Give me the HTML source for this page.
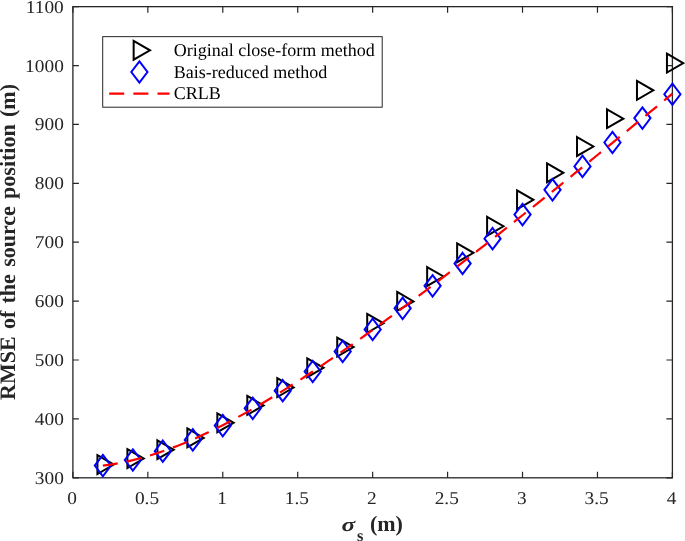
<!DOCTYPE html><html><head><meta charset="utf-8"><style>html,body{margin:0;padding:0;background:#fff;overflow:hidden}svg{display:block;will-change:transform;transform:translateZ(0)}text{font-family:"Liberation Serif",serif;fill:#262626;text-rendering:geometricPrecision}</style></head><body>
<svg width="685" height="541" viewBox="0 0 685 541">
<rect width="685" height="541" fill="#fff"/>
<rect x="72.9" y="6.65" width="599.5" height="471.15000000000003" fill="none" stroke="#262626" stroke-width="1.3"/>
<path d="M72.90 477.8 v-6 M72.90 6.65 v6" stroke="#262626" stroke-width="1.2" fill="none"/>
<text transform="translate(72.10 503.80) scale(1.075 1)" font-size="18" text-anchor="middle" >0</text>
<path d="M147.84 477.8 v-6 M147.84 6.65 v6" stroke="#262626" stroke-width="1.2" fill="none"/>
<text transform="translate(147.04 503.80) scale(1.075 1)" font-size="18" text-anchor="middle" >0.5</text>
<path d="M222.78 477.8 v-6 M222.78 6.65 v6" stroke="#262626" stroke-width="1.2" fill="none"/>
<text transform="translate(221.97 503.80) scale(1.075 1)" font-size="18" text-anchor="middle" >1</text>
<path d="M297.71 477.8 v-6 M297.71 6.65 v6" stroke="#262626" stroke-width="1.2" fill="none"/>
<text transform="translate(296.91 503.80) scale(1.075 1)" font-size="18" text-anchor="middle" >1.5</text>
<path d="M372.65 477.8 v-6 M372.65 6.65 v6" stroke="#262626" stroke-width="1.2" fill="none"/>
<text transform="translate(371.85 503.80) scale(1.075 1)" font-size="18" text-anchor="middle" >2</text>
<path d="M447.59 477.8 v-6 M447.59 6.65 v6" stroke="#262626" stroke-width="1.2" fill="none"/>
<text transform="translate(446.79 503.80) scale(1.075 1)" font-size="18" text-anchor="middle" >2.5</text>
<path d="M522.52 477.8 v-6 M522.52 6.65 v6" stroke="#262626" stroke-width="1.2" fill="none"/>
<text transform="translate(521.73 503.80) scale(1.075 1)" font-size="18" text-anchor="middle" >3</text>
<path d="M597.46 477.8 v-6 M597.46 6.65 v6" stroke="#262626" stroke-width="1.2" fill="none"/>
<text transform="translate(596.66 503.80) scale(1.075 1)" font-size="18" text-anchor="middle" >3.5</text>
<path d="M672.40 477.8 v-6 M672.40 6.65 v6" stroke="#262626" stroke-width="1.2" fill="none"/>
<text transform="translate(671.60 503.80) scale(1.075 1)" font-size="18" text-anchor="middle" >4</text>
<path d="M72.9 477.80 h6 M672.4 477.80 h-6" stroke="#262626" stroke-width="1.2" fill="none"/>
<text transform="translate(63.80 483.80) scale(1.075 1)" font-size="18" text-anchor="end" >300</text>
<path d="M72.9 418.91 h6 M672.4 418.91 h-6" stroke="#262626" stroke-width="1.2" fill="none"/>
<text transform="translate(63.80 424.91) scale(1.075 1)" font-size="18" text-anchor="end" >400</text>
<path d="M72.9 360.01 h6 M672.4 360.01 h-6" stroke="#262626" stroke-width="1.2" fill="none"/>
<text transform="translate(63.80 366.01) scale(1.075 1)" font-size="18" text-anchor="end" >500</text>
<path d="M72.9 301.12 h6 M672.4 301.12 h-6" stroke="#262626" stroke-width="1.2" fill="none"/>
<text transform="translate(63.80 307.12) scale(1.075 1)" font-size="18" text-anchor="end" >600</text>
<path d="M72.9 242.22 h6 M672.4 242.22 h-6" stroke="#262626" stroke-width="1.2" fill="none"/>
<text transform="translate(63.80 248.22) scale(1.075 1)" font-size="18" text-anchor="end" >700</text>
<path d="M72.9 183.33 h6 M672.4 183.33 h-6" stroke="#262626" stroke-width="1.2" fill="none"/>
<text transform="translate(63.80 189.33) scale(1.075 1)" font-size="18" text-anchor="end" >800</text>
<path d="M72.9 124.44 h6 M672.4 124.44 h-6" stroke="#262626" stroke-width="1.2" fill="none"/>
<text transform="translate(63.80 130.44) scale(1.075 1)" font-size="18" text-anchor="end" >900</text>
<path d="M72.9 65.54 h6 M672.4 65.54 h-6" stroke="#262626" stroke-width="1.2" fill="none"/>
<text transform="translate(63.80 71.54) scale(1.075 1)" font-size="18" text-anchor="end" >1000</text>
<path d="M72.9 6.65 h6 M672.4 6.65 h-6" stroke="#262626" stroke-width="1.2" fill="none"/>
<text transform="translate(63.80 12.65) scale(1.075 1)" font-size="18" text-anchor="end" >1100</text>
<text transform="translate(15.0 242.0) rotate(-90)" font-size="22" font-weight="bold" text-anchor="middle" word-spacing="1.8">RMSE of the source position (m)</text>
<text transform="translate(341.60 530.90) scale(1.3 1)" font-size="19.5" text-anchor="start" font-weight="bold" font-style="italic">σ</text>
<text transform="translate(357.00 540.60) scale(1.0 1)" font-size="16.5" text-anchor="start" font-weight="bold">s</text>
<text transform="translate(369.90 530.90) scale(1.0 1)" font-size="22" text-anchor="start" font-weight="bold">(m)</text>
<path d="M97.42 455.16 L113.78 464.60 L97.42 474.04 Z" fill="none" stroke="#000" stroke-width="2" stroke-linejoin="miter"/>
<path d="M127.40 449.16 L143.75 458.60 L127.40 468.04 Z" fill="none" stroke="#000" stroke-width="2" stroke-linejoin="miter"/>
<path d="M157.38 440.26 L173.72 449.70 L157.38 459.14 Z" fill="none" stroke="#000" stroke-width="2" stroke-linejoin="miter"/>
<path d="M187.35 428.46 L203.70 437.90 L187.35 447.34 Z" fill="none" stroke="#000" stroke-width="2" stroke-linejoin="miter"/>
<path d="M217.33 413.36 L233.68 422.80 L217.33 432.24 Z" fill="none" stroke="#000" stroke-width="2" stroke-linejoin="miter"/>
<path d="M247.30 395.96 L263.65 405.40 L247.30 414.84 Z" fill="none" stroke="#000" stroke-width="2" stroke-linejoin="miter"/>
<path d="M277.28 378.16 L293.62 387.60 L277.28 397.04 Z" fill="none" stroke="#000" stroke-width="2" stroke-linejoin="miter"/>
<path d="M307.25 358.36 L323.60 367.80 L307.25 377.24 Z" fill="none" stroke="#000" stroke-width="2" stroke-linejoin="miter"/>
<path d="M337.23 337.66 L353.58 347.10 L337.23 356.54 Z" fill="none" stroke="#000" stroke-width="2" stroke-linejoin="miter"/>
<path d="M367.20 313.91 L383.55 323.35 L367.20 332.79 Z" fill="none" stroke="#000" stroke-width="2" stroke-linejoin="miter"/>
<path d="M397.18 291.96 L413.52 301.40 L397.18 310.84 Z" fill="none" stroke="#000" stroke-width="2" stroke-linejoin="miter"/>
<path d="M427.15 267.06 L443.50 276.50 L427.15 285.94 Z" fill="none" stroke="#000" stroke-width="2" stroke-linejoin="miter"/>
<path d="M457.13 243.36 L473.48 252.80 L457.13 262.24 Z" fill="none" stroke="#000" stroke-width="2" stroke-linejoin="miter"/>
<path d="M487.10 216.81 L503.45 226.25 L487.10 235.69 Z" fill="none" stroke="#000" stroke-width="2" stroke-linejoin="miter"/>
<path d="M517.07 190.36 L533.42 199.80 L517.07 209.24 Z" fill="none" stroke="#000" stroke-width="2" stroke-linejoin="miter"/>
<path d="M547.05 163.36 L563.40 172.80 L547.05 182.24 Z" fill="none" stroke="#000" stroke-width="2" stroke-linejoin="miter"/>
<path d="M577.02 137.06 L593.38 146.50 L577.02 155.94 Z" fill="none" stroke="#000" stroke-width="2" stroke-linejoin="miter"/>
<path d="M607.00 109.26 L623.35 118.70 L607.00 128.14 Z" fill="none" stroke="#000" stroke-width="2" stroke-linejoin="miter"/>
<path d="M636.97 80.91 L653.32 90.35 L636.97 99.79 Z" fill="none" stroke="#000" stroke-width="2" stroke-linejoin="miter"/>
<path d="M666.95 53.66 L683.30 63.10 L666.95 72.54 Z" fill="none" stroke="#000" stroke-width="2" stroke-linejoin="miter"/>
<path d="M102.88 454.90 L110.97 465.60 L102.88 476.30 L94.78 465.60 Z" fill="none" stroke="#00f" stroke-width="2" stroke-linejoin="miter"/>
<path d="M132.85 449.30 L140.95 460.00 L132.85 470.70 L124.75 460.00 Z" fill="none" stroke="#00f" stroke-width="2" stroke-linejoin="miter"/>
<path d="M162.82 440.50 L170.92 451.20 L162.82 461.90 L154.72 451.20 Z" fill="none" stroke="#00f" stroke-width="2" stroke-linejoin="miter"/>
<path d="M192.80 429.20 L200.90 439.90 L192.80 450.60 L184.70 439.90 Z" fill="none" stroke="#00f" stroke-width="2" stroke-linejoin="miter"/>
<path d="M222.78 414.90 L230.88 425.60 L222.78 436.30 L214.68 425.60 Z" fill="none" stroke="#00f" stroke-width="2" stroke-linejoin="miter"/>
<path d="M252.75 397.60 L260.85 408.30 L252.75 419.00 L244.65 408.30 Z" fill="none" stroke="#00f" stroke-width="2" stroke-linejoin="miter"/>
<path d="M282.73 380.00 L290.83 390.70 L282.73 401.40 L274.62 390.70 Z" fill="none" stroke="#00f" stroke-width="2" stroke-linejoin="miter"/>
<path d="M312.70 360.80 L320.80 371.50 L312.70 382.20 L304.60 371.50 Z" fill="none" stroke="#00f" stroke-width="2" stroke-linejoin="miter"/>
<path d="M342.68 340.70 L350.78 351.40 L342.68 362.10 L334.58 351.40 Z" fill="none" stroke="#00f" stroke-width="2" stroke-linejoin="miter"/>
<path d="M372.65 318.70 L380.75 329.40 L372.65 340.10 L364.55 329.40 Z" fill="none" stroke="#00f" stroke-width="2" stroke-linejoin="miter"/>
<path d="M402.62 297.60 L410.73 308.30 L402.62 319.00 L394.52 308.30 Z" fill="none" stroke="#00f" stroke-width="2" stroke-linejoin="miter"/>
<path d="M432.60 275.10 L440.70 285.80 L432.60 296.50 L424.50 285.80 Z" fill="none" stroke="#00f" stroke-width="2" stroke-linejoin="miter"/>
<path d="M462.58 252.75 L470.68 263.45 L462.58 274.15 L454.48 263.45 Z" fill="none" stroke="#00f" stroke-width="2" stroke-linejoin="miter"/>
<path d="M492.55 228.00 L500.65 238.70 L492.55 249.40 L484.45 238.70 Z" fill="none" stroke="#00f" stroke-width="2" stroke-linejoin="miter"/>
<path d="M522.52 203.90 L530.62 214.60 L522.52 225.30 L514.42 214.60 Z" fill="none" stroke="#00f" stroke-width="2" stroke-linejoin="miter"/>
<path d="M552.50 179.15 L560.60 189.85 L552.50 200.55 L544.40 189.85 Z" fill="none" stroke="#00f" stroke-width="2" stroke-linejoin="miter"/>
<path d="M582.48 155.70 L590.58 166.40 L582.48 177.10 L574.38 166.40 Z" fill="none" stroke="#00f" stroke-width="2" stroke-linejoin="miter"/>
<path d="M612.45 131.80 L620.55 142.50 L612.45 153.20 L604.35 142.50 Z" fill="none" stroke="#00f" stroke-width="2" stroke-linejoin="miter"/>
<path d="M642.42 107.40 L650.52 118.10 L642.42 128.80 L634.32 118.10 Z" fill="none" stroke="#00f" stroke-width="2" stroke-linejoin="miter"/>
<path d="M672.40 83.55 L680.50 94.25 L672.40 104.95 L664.30 94.25 Z" fill="none" stroke="#00f" stroke-width="2" stroke-linejoin="miter"/>
<polyline points="102.88,465.68 110.37,464.63 117.86,463.36 125.36,461.86 132.85,460.15 140.34,458.23 147.84,456.11 155.33,453.79 162.83,451.28 170.32,448.58 177.81,445.71 185.31,442.67 192.80,439.47 200.29,436.11 207.79,432.60 215.28,428.96 222.78,425.18 230.27,421.27 237.76,417.24 245.26,413.10 252.75,408.85 260.24,404.49 267.74,400.04 275.23,395.49 282.73,390.86 290.22,386.14 297.71,381.35 305.21,376.48 312.70,371.54 320.19,366.53 327.69,361.46 335.18,356.32 342.68,351.13 350.17,345.89 357.66,340.60 365.16,335.25 372.65,329.87 380.14,324.43 387.64,318.96 395.13,313.45 402.62,307.90 410.12,302.31 417.61,296.69 425.11,291.04 432.60,285.36 440.09,279.64 447.59,273.90 455.08,268.14 462.58,262.35 470.07,256.54 477.56,250.70 485.06,244.84 492.55,238.96 500.04,233.07 507.54,227.15 515.03,221.22 522.53,215.26 530.02,209.30 537.51,203.31 545.01,197.32 552.50,191.31 559.99,185.28 567.49,179.25 574.98,173.20 582.48,167.14 589.97,161.07 597.46,154.98 604.96,148.89 612.45,142.79 619.94,136.68 627.44,130.56 634.93,124.44 642.43,118.30 649.92,112.16 657.41,106.01 664.91,99.86 672.40,93.70" fill="none" stroke="#f00" stroke-width="2.2" stroke-dasharray="15 9.14"/>
<rect x="102.7" y="36.65" width="279.5" height="70.55" fill="#fff" stroke="#262626" stroke-width="1"/>
<path d="M133.65 40.86 L150.00 50.30 L133.65 59.74 Z" fill="none" stroke="#000" stroke-width="2" stroke-linejoin="miter"/>
<path d="M139.40 61.30 L147.50 72.00 L139.40 82.70 L131.30 72.00 Z" fill="none" stroke="#00f" stroke-width="2" stroke-linejoin="miter"/>
<path d="M109.2 93.6 H169.5" stroke="#f00" stroke-width="2.2" stroke-dasharray="15 9.14" fill="none"/>
<text transform="translate(173.70 55.90) scale(1.0 1)" font-size="18" text-anchor="start" style="fill:#000">Original close-form method</text>
<text transform="translate(173.70 77.60) scale(1.0 1)" font-size="18" text-anchor="start" style="fill:#000">Bais-reduced method</text>
<text transform="translate(173.70 99.30) scale(1.0 1)" font-size="18" text-anchor="start" style="fill:#000">CRLB</text>
</svg></body></html>
